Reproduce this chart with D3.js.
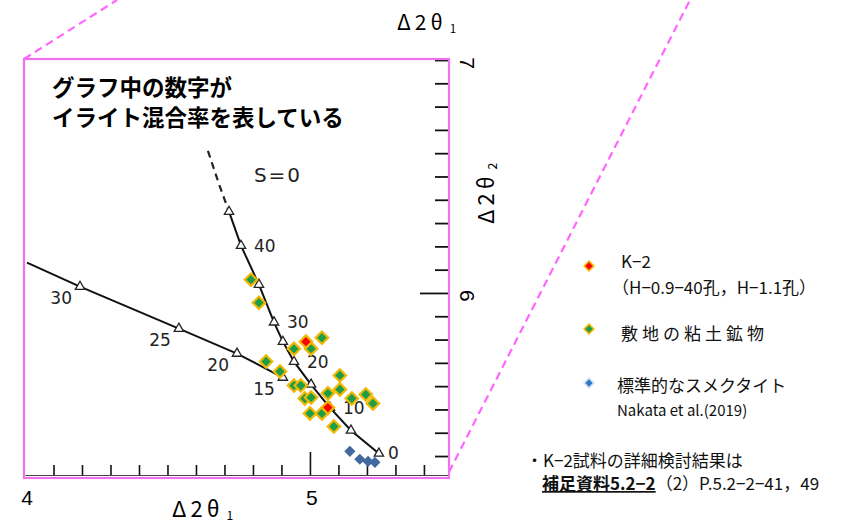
<!DOCTYPE html>
<html>
<head>
<meta charset="utf-8">
<script src="https://cdn.jsdelivr.net/npm/d3@7"></script>
<style>
  body { margin: 0; background: #fff; }
  text { font-family: "Noto Sans CJK JP", sans-serif; }
</style>
</head>
<body>
<div id="chart"></div>
<script>
// S=0 curve (illite % at the triangles), Δ2θ1 / Δ2θ2
const sPct = [45, 40, 35, 30, 25, 20, 15, 10, 5, 0];
const sX = [4.716, 4.758, 4.821, 4.874, 4.905, 4.944, 5.004, 5.070, 5.144, 5.242];
const sY = [6.349, 6.203, 6.036, 5.874, 5.791, 5.705, 5.607, 5.508, 5.410, 5.311];
const sDashX = [4.642, 4.680, 4.716];
const sDashY = [6.610, 6.470, 6.349];
const sLabeled = [40, 30, 20, 10, 0];

// second curve
const rPct = [null, 30, 25, 20, 15];
const rX = [4.007, 4.193, 4.540, 4.744, 4.905];
const rY = [6.130, 6.027, 5.847, 5.740, 5.637];

// 敷地の粘土鉱物
const greenX = [4.793, 4.821, 4.944, 5.004, 5.042, 4.846, 4.895, 4.944, 4.968, 5.105,
                5.063, 5.105, 5.147, 5.196, 5.221, 4.982, 5.004, 5.000, 5.042, 5.084];
const greenY = [6.057, 5.958, 5.760, 5.761, 5.808, 5.706, 5.663, 5.603, 5.603, 5.646,
                5.569, 5.586, 5.547, 5.564, 5.526, 5.547, 5.551, 5.483, 5.483, 5.427];
// K-2
const redX = [4.986, 5.063];
const redY = [5.791, 5.508];
// 標準的なスメクタイト
const blueX = [5.140, 5.175, 5.204, 5.228];
const blueY = [5.320, 5.286, 5.277, 5.273];

const xTicks = d3.range(41, 55).map(d => d / 10);
const yTicks = d3.range(53, 71).map(d => d / 10);
const xLabels = [4, 5];
const yLabels = [6, 7];

const width = 863, height = 526;
const svg = d3.select('#chart').append('svg').attr('width', width).attr('height', height);

const x = d3.scaleLinear().domain([4, 5.488]).range([25, 449]);
const y = d3.scaleLinear().domain([5.21, 7]).range([477, 60]);

// zoom callout lines
const box = { x0: 24, y0: 59, x1: 449, y1: 478 };
svg.append('line').attr('x1', box.x0).attr('y1', box.y0).attr('x2', 117).attr('y2', 0)
    .attr('stroke', '#ff66ff').attr('stroke-width', 2.2).attr('stroke-dasharray', '8,5');
svg.append('line').attr('x1', box.x1).attr('y1', box.y1 - 6).attr('x2', 690).attr('y2', 0)
    .attr('stroke', '#ff66ff').attr('stroke-width', 2.2).attr('stroke-dasharray', '8,5');

// axes
const axB = svg.append('g').attr('transform', 'translate(0,475)')
    .call(d3.axisBottom(x).tickValues(xTicks).tickSizeInner(-10).tickSizeOuter(0).tickFormat(''));
axB.selectAll('.tick line').attr('stroke', '#111').attr('stroke-width', 1.6)
    .attr('y2', d => Math.abs(d - 5) < 1e-6 ? -23 : -10);
axB.select('.domain').attr('stroke', '#444');

const axR = svg.append('g').attr('transform', 'translate(449,0)')
    .call(d3.axisRight(y).tickValues(yTicks).tickSizeInner(-14).tickSizeOuter(0).tickFormat(''));
axR.selectAll('.tick line').attr('stroke', '#111').attr('stroke-width', 1.8)
    .attr('x2', d => Math.abs(d - 6) < 1e-6 ? -29 : -14);

svg.append('g').selectAll('text').data(xLabels).enter().append('text')
    .attr('x', d => x(d) + 2).attr('y', 505).attr('text-anchor', 'middle')
    .style('font-family', '"Liberation Sans", Arial, sans-serif').style('font-size', '21px')
    .text(d => d);
svg.append('g').selectAll('text').data(yLabels).enter().append('text')
    .attr('transform', d => `translate(460,${y(d) + 3}) rotate(90)`)
    .attr('text-anchor', 'middle')
    .style('font-family', '"Liberation Sans", Arial, sans-serif').style('font-size', '21px')
    .text(d => d);

// curves
const line = d3.line().x(d => x(d[0])).y(d => y(d[1]));
svg.append('path').datum(d3.zip(sDashX, sDashY)).attr('d', line)
    .attr('fill', 'none').attr('stroke', '#222').attr('stroke-width', 2.2).attr('stroke-dasharray', '7,5');
svg.append('path').datum(d3.zip(sX, sY)).attr('d', line)
    .attr('fill', 'none').attr('stroke', '#111').attr('stroke-width', 2);
svg.append('path').datum(d3.zip(rX, rY)).attr('d', line)
    .attr('fill', 'none').attr('stroke', '#111').attr('stroke-width', 2);

const tri = d3.symbol().type(d3.symbolTriangle).size(38);
const triPts = d3.zip(sX, sY).concat(d3.zip(rX, rY).slice(1));
svg.append('g').selectAll('path').data(triPts).enter().append('path')
    .attr('d', tri).attr('transform', d => `translate(${x(d[0])},${y(d[1])})`)
    .attr('fill', '#fff').attr('stroke', '#222').attr('stroke-width', 1.3);

const numStyle = s => s.style('font-family', '"DejaVu Sans", sans-serif').style('font-size', '17px').attr('fill', '#222');
svg.append('g').selectAll('text').data(d3.zip(sPct, sX, sY).filter(d => sLabeled.includes(d[0])))
    .enter().append('text')
    .attr('x', d => x(d[1]) + (d[0] === 0 ? 9 : 13)).attr('y', d => y(d[2]) + 6)
    .text(d => d[0]).call(numStyle);
svg.append('g').selectAll('text').data(d3.zip(rPct, rX, rY).filter(d => d[0] !== null))
    .enter().append('text')
    .attr('x', d => x(d[1]) - 8).attr('y', d => y(d[2]) + 17).attr('text-anchor', 'end')
    .text(d => d[0]).call(numStyle);
svg.append('text').attr('x', 278).attr('y', 182).attr('text-anchor', 'middle')
    .style('font-family', '"DejaVu Sans", sans-serif').style('font-size', '20px').style('letter-spacing', '2px')
    .attr('fill', '#222').text('S=0');

// markers
const sq = d3.symbol().type(d3.symbolSquare);
function diamonds(xs, ys, size, fill, stroke, sw) {
    svg.append('g').selectAll('path').data(d3.zip(xs, ys)).enter().append('path')
        .attr('d', sq.size(size)())
        .attr('transform', d => `translate(${x(d[0])},${y(d[1])}) rotate(45)`)
        .attr('fill', fill).attr('stroke', stroke).attr('stroke-width', sw);
}
diamonds(greenX, greenY, 78, '#1c9e48', '#f2b705', 2.2);
diamonds(redX, redY, 78, '#ff0000', '#f2b705', 2.2);
diamonds(blueX, blueY, 62, '#41689f', 'none', 0);

// zoom frame
svg.append('rect').attr('x', box.x0).attr('y', box.y0).attr('width', box.x1 - box.x0).attr('height', box.y1 - box.y0)
    .attr('fill', 'none').attr('stroke', '#f070f0').attr('stroke-width', 2.2);

// titles
svg.append('text').attr('x', 52).attr('y', 96).style('font-size', '22.5px').style('font-weight', 'bold')
    .text('グラフ中の数字が');
svg.append('text').attr('x', 52).attr('y', 126).style('font-size', '22.5px').style('font-weight', 'bold')
    .text('イライト混合率を表している');

function theta(t, sub) {
    t.append('tspan').text('Δ2θ');
    t.append('tspan').attr('dx', 3).attr('dy', 3).style('font-size', '0.55em').text(sub);
}
svg.append('text').attr('x', 397).attr('y', 30).style('font-size', '21px').style('letter-spacing', '4px')
    .call(theta, '1');
svg.append('text').attr('x', 172).attr('y', 517).style('font-size', '22px').style('letter-spacing', '4px')
    .call(theta, '1');
svg.append('text').attr('transform', 'translate(494,224) rotate(-90)').style('font-size', '22px').style('letter-spacing', '4px')
    .call(theta, '2');

// legend
const legItems = [
    { y: 266, fill: '#ff0000', stroke: '#f2b705' },
    { y: 329, fill: '#1c9e48', stroke: '#f2b705' },
    { y: 383, fill: '#2b7bc8', stroke: '#cfe0f0' }
];
svg.append('g').selectAll('path').data(legItems).enter().append('path')
    .attr('d', sq.size(46)())
    .attr('transform', d => `translate(589,${d.y}) rotate(45)`)
    .attr('fill', d => d.fill).attr('stroke', d => d.stroke).attr('stroke-width', 1.6);

const leg = svg.append('g').style('font-size', '17px').attr('fill', '#111');
leg.append('text').attr('x', 621).attr('y', 268).text('K−2');
leg.append('text').attr('x', 612).attr('y', 294).text('（H−0.9−40孔，H−1.1孔）');
leg.append('text').attr('x', 621).attr('y', 340).style('letter-spacing', '4px').text('敷地の粘土鉱物');
leg.append('text').attr('x', 617).attr('y', 392).text('標準的なスメクタイト');
leg.append('text').attr('x', 617).attr('y', 416).style('font-size', '15px').text('Nakata et al.(2019)');
leg.append('text').attr('x', 526).attr('y', 467).text('・K−2試料の詳細検討結果は');
const ref = leg.append('text').attr('x', 542).attr('y', 490);
ref.append('tspan').style('font-weight', 'bold').style('text-decoration', 'underline').text('補足資料5.2−2');
ref.append('tspan').text('（2）P.5.2−2−41，49');
</script>
</body>
</html>
